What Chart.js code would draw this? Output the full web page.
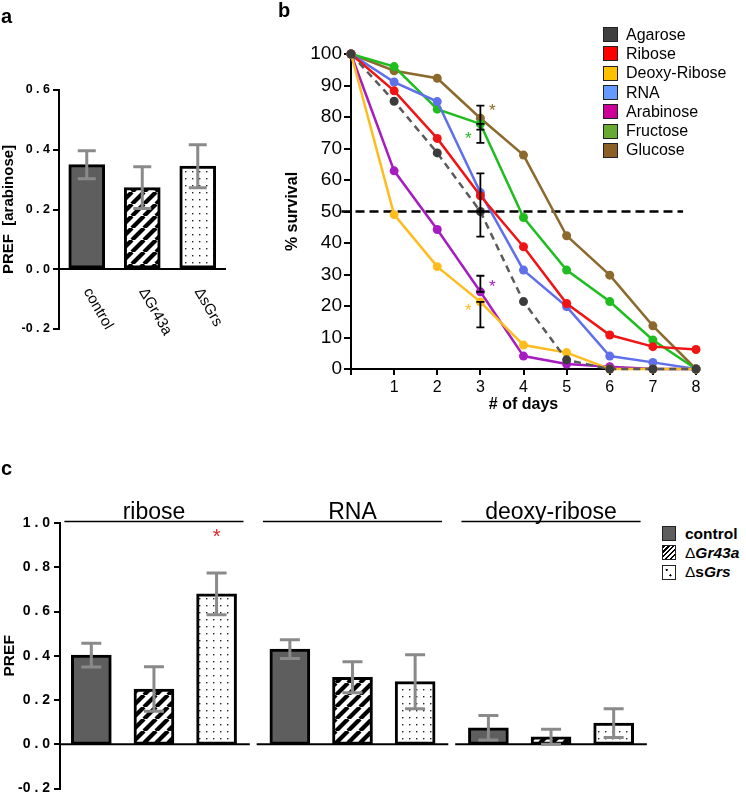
<!DOCTYPE html>
<html>
<head>
<meta charset="utf-8">
<script src="https://cdn.jsdelivr.net/npm/chart.js@4.4.1/dist/chart.umd.min.js"></script>
<style>
  body { margin: 0; background: #fff; font-family: 'Liberation Sans', Arial, sans-serif; color: #000; }
  #page { position: relative; width: 746px; height: 801px; overflow: hidden; }
  canvas { position: absolute; }
  .letter { position: absolute; font-size: 20px; font-weight: bold; line-height: 20px; }
  .legend-b { position: absolute; left: 603px; top: 25px; font-size: 16px; }
  .legend-b .row { display: flex; align-items: center; height: 19.3px; }
  .legend-b .sw { width: 13px; height: 13px; border: 1.5px solid #222; margin-right: 8px; }
  .legend-c { position: absolute; left: 662px; top: 524px; font-size: 15.5px; }
  .legend-c .row { display: flex; align-items: center; height: 19.3px; }
  .legend-c .sw { width: 12px; height: 13px; border: 1.5px solid #222; margin-right: 9px; box-sizing: content-box; }
  .sw.ctrl { background: #5e5e5e; }
  .sw.stripe { background: repeating-linear-gradient(135deg, #000 0 1.6px, #fff 1.6px 3.4px); }
  .sw.dots { background: radial-gradient(circle at 30% 30%, #000 0.9px, transparent 1.3px), radial-gradient(circle at 62% 72%, #000 0.9px, transparent 1.3px), #fff; }
  .legend-c .d { font-weight: normal; }
</style>
</head>
<body>
<div id="page">
  <canvas id="chart-a" width="232" height="400" style="left:0;top:0"></canvas>
  <canvas id="chart-b" width="516" height="430" style="left:230px;top:0"></canvas>
  <canvas id="chart-c" width="660" height="346" style="left:0;top:455px"></canvas>
  <div class="letter" style="left:1px;top:6px">a</div>
  <div class="letter" style="left:278px;top:0">b</div>
  <div class="letter" style="left:1px;top:458px">c</div>
  <div class="legend-b" id="legend-b"></div>
  <div class="legend-c">
    <div class="row"><span class="sw ctrl"></span><b>control</b></div>
    <div class="row"><span class="sw stripe"></span><span class="d">&#916;</span><b><i>Gr43a</i></b></div>
    <div class="row"><span class="sw dots"></span><span class="d">&#916;</span><b>s<i>Grs</i></b></div>
  </div>
</div>
<script>
// ===== DATA =====
// panel a: arabinose preference
const strainLabels  = ['control', '\u0394Gr43a', '\u0394sGrs'];
const arabinoseMean = [0.35, 0.273, 0.345];
const arabinoseSem  = [0.047, 0.07, 0.072];

// panel b: survival (%) per day
const days = [0, 1, 2, 3, 4, 5, 6, 7, 8];
const sugarNames = ['Agarose', 'Ribose', 'Deoxy-Ribose', 'RNA', 'Arabinose', 'Fructose', 'Glucose'];
const survAgarose   = [100, 85, 68.6, 50, 21.4, 2.9, 0, 0, 0];
const survRibose    = [100, 88.3, 73.2, 55, 38.8, 20.8, 10.8, 7.1, 6.2];
const survDeoxy     = [100, 49, 32.5, 21.3, 7.6, 5.2, 0, 0, 0];
const survRna       = [100, 91.1, 84.9, 56, 31.4, 19.8, 4.1, 2.1, 0];
const survArabinose = [100, 62.9, 44.3, 24.5, 4.1, 1.6, 0.7, 0, 0];
const survFructose  = [100, 96, 82.5, 77.8, 48.1, 31.4, 21.4, 9.2, 0];
const survGlucose   = [100, 94.7, 92.3, 79.6, 67.9, 42.3, 29.8, 13.7, 0];
const survivalSeries = [survAgarose, survRibose, survDeoxy, survRna, survArabinose, survFructose, survGlucose];
// error bars and significance marks, all at day 3
const errDay  = 3;
const errLow  = [42, null, 13.2, 50, 24.5, 71.8, 76];
const errHigh = [50, null, 21.3, 62.1, 29.6, 77.8, 83.6];
const starValues = [null, null, 19.8, null, 27.2, 74.4, 83.3];
const halfSurvival = 50;

// panel c: preference per sugar
const sugarGroups = ['ribose', 'RNA', 'deoxy-ribose'];
const controlPref = [0.403, 0.43, 0.075];
const controlSem  = [0.054, 0.042, 0.055];
const gr43aPref   = [0.25, 0.303, 0.034];
const gr43aSem    = [0.1, 0.07, 0.034];
const sgrsPref    = [0.68, 0.283, 0.096];
const sgrsSem     = [0.094, 0.122, 0.065];
const sgrsStar    = [0.953, null, null];

// ===== STYLE =====
const FONT = "'Liberation Sans', Arial, sans-serif";
Chart.defaults.font.family = FONT;
Chart.defaults.color = '#000';
Chart.defaults.animation = false;

const lineColors   = ['#5a5a5a', '#f01414', '#ffbc1f', '#6070ea', '#a61cc0', '#1fbd1f', '#8c6a2e'];
const pointColors  = ['#3c3c3c', '#f01414', '#ffbc1f', '#6070ea', '#a61cc0', '#1fbd1f', '#8c6a2e'];
const legendColors = ['#404040', '#ff0000', '#ffc000', '#6699ff', '#cc0099', '#66aa33', '#8c5f26'];
const starSide     = [0, 0, -1, 0, 1, -1, 1];
const groupStart   = [0, 3.17, 6.34];   // x slot of each group's first bar

function makeStripes() {
  const c = document.createElement('canvas');
  c.width = c.height = 12;
  const g = c.getContext('2d');
  g.fillStyle = '#fff'; g.fillRect(0, 0, 12, 12);
  g.strokeStyle = '#000'; g.lineWidth = 4.2;
  [-12, 0, 12].forEach(k => { g.beginPath(); g.moveTo(k, 12); g.lineTo(k + 12, 0); g.stroke(); });
  return g.createPattern(c, 'repeat');
}
function makeDots() {
  const c = document.createElement('canvas');
  c.width = c.height = 7;
  const g = c.getContext('2d');
  g.fillStyle = '#fff'; g.fillRect(0, 0, 7, 7);
  g.fillStyle = '#222'; g.fillRect(3, 3, 1.4, 1.4);
  return g.createPattern(c, 'repeat');
}
const ctrlFill = '#5e5e5e';
const stripeFill = makeStripes();
const dotFill = makeDots();

const spaced = v => (Math.abs(v) < 1e-9 ? 0 : Number(v)).toFixed(1).replace('.', ' . ');

function centerText(ctx, txt, x, y) {
  const m = ctx.measureText(txt);
  ctx.fillText(txt, x, y + (m.actualBoundingBoxAscent - m.actualBoundingBoxDescent) / 2);
}

// gray SEM bars on top of the bars
const errorBars = {
  id: 'errorBars',
  afterDatasetsDraw(chart, args, opts) {
    const { ctx } = chart;
    const y = chart.scales.y;
    ctx.save();
    ctx.strokeStyle = '#8a8a8a';
    ctx.lineWidth = 3;
    chart.data.datasets.forEach((ds, di) => {
      const meta = chart.getDatasetMeta(di);
      meta.data.forEach((bar, i) => {
        const mean = meta.controller.getParsed(i).y;
        const top = y.getPixelForValue(mean + ds.sem[i]);
        const bot = y.getPixelForValue(mean - ds.sem[i]);
        ctx.beginPath();
        ctx.moveTo(bar.x, top); ctx.lineTo(bar.x, bot);
        ctx.moveTo(bar.x - opts.cap, top); ctx.lineTo(bar.x + opts.cap, top);
        ctx.moveTo(bar.x - opts.cap, bot); ctx.lineTo(bar.x + opts.cap, bot);
        ctx.stroke();
      });
    });
    ctx.restore();
  }
};

// ===== PANEL A =====
const slantLabels = {
  id: 'slantLabels',
  afterDraw(chart) {
    const { ctx, scales: { x, y } } = chart;
    ctx.save();
    ctx.font = '15px ' + FONT;
    ctx.fillStyle = '#000';
    ctx.textAlign = 'left';
    ctx.textBaseline = 'middle';
    strainLabels.forEach((lab, i) => {
      ctx.save();
      ctx.translate(x.getPixelForValue(i), y.getPixelForValue(0) + 20);
      ctx.rotate(Math.PI / 3);
      ctx.fillText(lab, 0, 0);
      ctx.restore();
    });
    ctx.restore();
  }
};

new Chart(document.getElementById('chart-a'), {
  type: 'bar',
  data: {
    labels: strainLabels,
    datasets: [{
      data: arabinoseMean,
      sem: arabinoseSem,
      backgroundColor: [ctrlFill, stripeFill, dotFill],
      borderColor: '#000',
      borderWidth: 3,
      borderSkipped: false,
      barThickness: 36
    }]
  },
  options: {
    responsive: false,
    layout: { padding: { top: 90, bottom: 71, left: 0, right: 6.5 } },
    plugins: { legend: { display: false }, tooltip: { enabled: false }, errorBars: { cap: 9 } },
    scales: {
      x: {
        position: { y: 0 },
        offset: true,
        grid: { display: false },
        border: { color: '#000', width: 2 },
        ticks: { display: false }
      },
      y: {
        min: -0.2, max: 0.6,
        ticks: { stepSize: 0.2, callback: spaced, font: { size: 12.5, weight: 'bold' }, padding: 3 },
        grid: { drawOnChartArea: false, color: '#000', lineWidth: 2, tickLength: 6 },
        border: { color: '#000', width: 2 },
        title: { display: true, text: 'PREF  [arabinose]', font: { size: 15, weight: 'bold' }, padding: 0 },
        afterFit: s => { s.width = 59; }
      }
    }
  },
  plugins: [errorBars, slantLabels]
});

// ===== PANEL B =====
document.getElementById('legend-b').innerHTML = sugarNames.map((n, k) =>
  `<div class="row"><span class="sw" style="background:${legendColors[k]}"></span>${n}</div>`
).join('');

const survivalMarks = {
  id: 'survivalMarks',
  beforeDatasetsDraw(chart) {
    const { ctx, scales: { x, y } } = chart;
    ctx.save();
    ctx.strokeStyle = '#000';
    ctx.lineWidth = 2.5;
    ctx.setLineDash([9, 5]);
    ctx.beginPath();
    ctx.moveTo(x.getPixelForValue(-0.22), y.getPixelForValue(halfSurvival));
    ctx.lineTo(x.getPixelForValue(7.7), y.getPixelForValue(halfSurvival));
    ctx.stroke();
    ctx.restore();
  },
  afterDatasetsDraw(chart) {
    const { ctx, scales: { x, y } } = chart;
    const px = x.getPixelForValue(errDay);
    ctx.save();
    ctx.strokeStyle = '#000';
    ctx.lineWidth = 1.8;
    errHigh.forEach((hi, k) => {
      if (hi == null) return;
      const t = y.getPixelForValue(hi), b = y.getPixelForValue(errLow[k]);
      ctx.beginPath();
      ctx.moveTo(px, t); ctx.lineTo(px, b);
      ctx.moveTo(px - 4, t); ctx.lineTo(px + 4, t);
      ctx.moveTo(px - 4, b); ctx.lineTo(px + 4, b);
      ctx.stroke();
    });
    ctx.font = '17px ' + FONT;
    ctx.textAlign = 'center';
    ctx.textBaseline = 'alphabetic';
    starValues.forEach((v, k) => {
      if (v == null) return;
      ctx.fillStyle = lineColors[k];
      centerText(ctx, '*', px + starSide[k] * 12, y.getPixelForValue(v));
    });
    ctx.restore();
  }
};

new Chart(document.getElementById('chart-b'), {
  type: 'line',
  data: {
    datasets: sugarNames.map((name, k) => ({
      label: name,
      data: days.map((d, i) => ({ x: d, y: survivalSeries[k][i] })),
      borderColor: lineColors[k],
      backgroundColor: pointColors[k],
      borderDash: k === 0 ? [7, 5] : [],
      borderWidth: 2.5,
      pointRadius: 4.5,
      pointBorderWidth: 0,
      tension: 0,
      clip: false
    }))
  },
  options: {
    responsive: false,
    layout: { padding: { top: 54, bottom: 16, left: 0, right: 50 } },
    plugins: { legend: { display: false }, tooltip: { enabled: false } },
    scales: {
      x: {
        type: 'linear', min: 0, max: 8,
        ticks: { stepSize: 1, callback: v => (v === 0 ? '' : v), font: { size: 16 }, padding: 3 },
        grid: { drawOnChartArea: false, color: '#000', lineWidth: 2, tickLength: 6 },
        border: { color: '#000', width: 2 },
        title: { display: true, text: '# of days', font: { size: 16, weight: 'bold' }, padding: 0 },
        afterFit: s => { s.height = 45; }
      },
      y: {
        min: 0, max: 100,
        ticks: { stepSize: 10, font: { size: 19 }, padding: 2 },
        grid: { drawOnChartArea: false, color: '#000', lineWidth: 2, tickLength: 7 },
        border: { color: '#000', width: 2 },
        title: { display: true, text: '% survival', font: { size: 16, weight: 'bold' }, padding: { top: 53, bottom: 0 } },
        afterFit: s => { s.width = 121; }
      }
    }
  },
  plugins: [survivalMarks]
});

// ===== PANEL C =====
const groupDecor = {
  id: 'groupDecor',
  afterDatasetsDraw(chart) {
    const { ctx, chartArea, scales: { x, y } } = chart;
    const y0 = y.getPixelForValue(0);
    const yh = y.getPixelForValue(1.007);
    ctx.save();
    ctx.strokeStyle = '#000';
    ctx.fillStyle = '#000';
    ctx.font = '23px ' + FONT;
    ctx.textAlign = 'center';
    ctx.textBaseline = 'alphabetic';
    groupStart.forEach((g, i) => {
      const c = g + 1;
      // baseline segment under each group
      ctx.lineWidth = 2;
      ctx.beginPath();
      ctx.moveTo(i === 0 ? chartArea.left : x.getPixelForValue(c - 1.53), y0);
      ctx.lineTo(x.getPixelForValue(c + 1.53), y0);
      ctx.stroke();
      // header line and sugar name
      ctx.lineWidth = 1.5;
      ctx.beginPath();
      ctx.moveTo(x.getPixelForValue(c - 1.43), yh);
      ctx.lineTo(x.getPixelForValue(c + 1.43), yh);
      ctx.stroke();
      ctx.fillText(sugarGroups[i], x.getPixelForValue(c), yh - 2);
    });
    ctx.fillStyle = '#e8202a';
    ctx.font = '20px ' + FONT;
    sgrsStar.forEach((v, i) => {
      if (v == null) return;
      centerText(ctx, '*', x.getPixelForValue(groupStart[i] + 2), y.getPixelForValue(v));
    });
    ctx.restore();
  }
};

const strainSeries = [
  { mean: controlPref, sem: controlSem, fill: ctrlFill, slot: 0 },
  { mean: gr43aPref,   sem: gr43aSem,   fill: stripeFill, slot: 1 },
  { mean: sgrsPref,    sem: sgrsSem,    fill: dotFill, slot: 2 }
];

new Chart(document.getElementById('chart-c'), {
  type: 'bar',
  data: {
    datasets: strainSeries.map((s, k) => ({
      label: strainLabels[k],
      data: s.mean.map((v, i) => ({ x: groupStart[i] + s.slot, y: v })),
      sem: s.sem,
      backgroundColor: s.fill,
      borderColor: '#000',
      borderWidth: 3,
      borderSkipped: false,
      barThickness: 40,
      grouped: false
    }))
  },
  options: {
    responsive: false,
    layout: { padding: { top: 68, bottom: 8, left: 0, right: 10 } },
    plugins: { legend: { display: false }, tooltip: { enabled: false }, errorBars: { cap: 10 } },
    scales: {
      x: { type: 'linear', min: -0.5, max: 8.92, offset: false, display: false },
      y: {
        min: -0.2, max: 1.0,
        ticks: { stepSize: 0.2, callback: spaced, font: { size: 14, weight: 'bold' }, padding: 4 },
        grid: { drawOnChartArea: false, color: '#000', lineWidth: 2, tickLength: 6 },
        border: { color: '#000', width: 2 },
        title: { display: true, text: 'PREF', font: { size: 15.5, weight: 'bold' }, padding: 0 },
        afterFit: s => { s.width = 60; }
      }
    }
  },
  plugins: [groupDecor, errorBars]
});
</script>
</body>
</html>
